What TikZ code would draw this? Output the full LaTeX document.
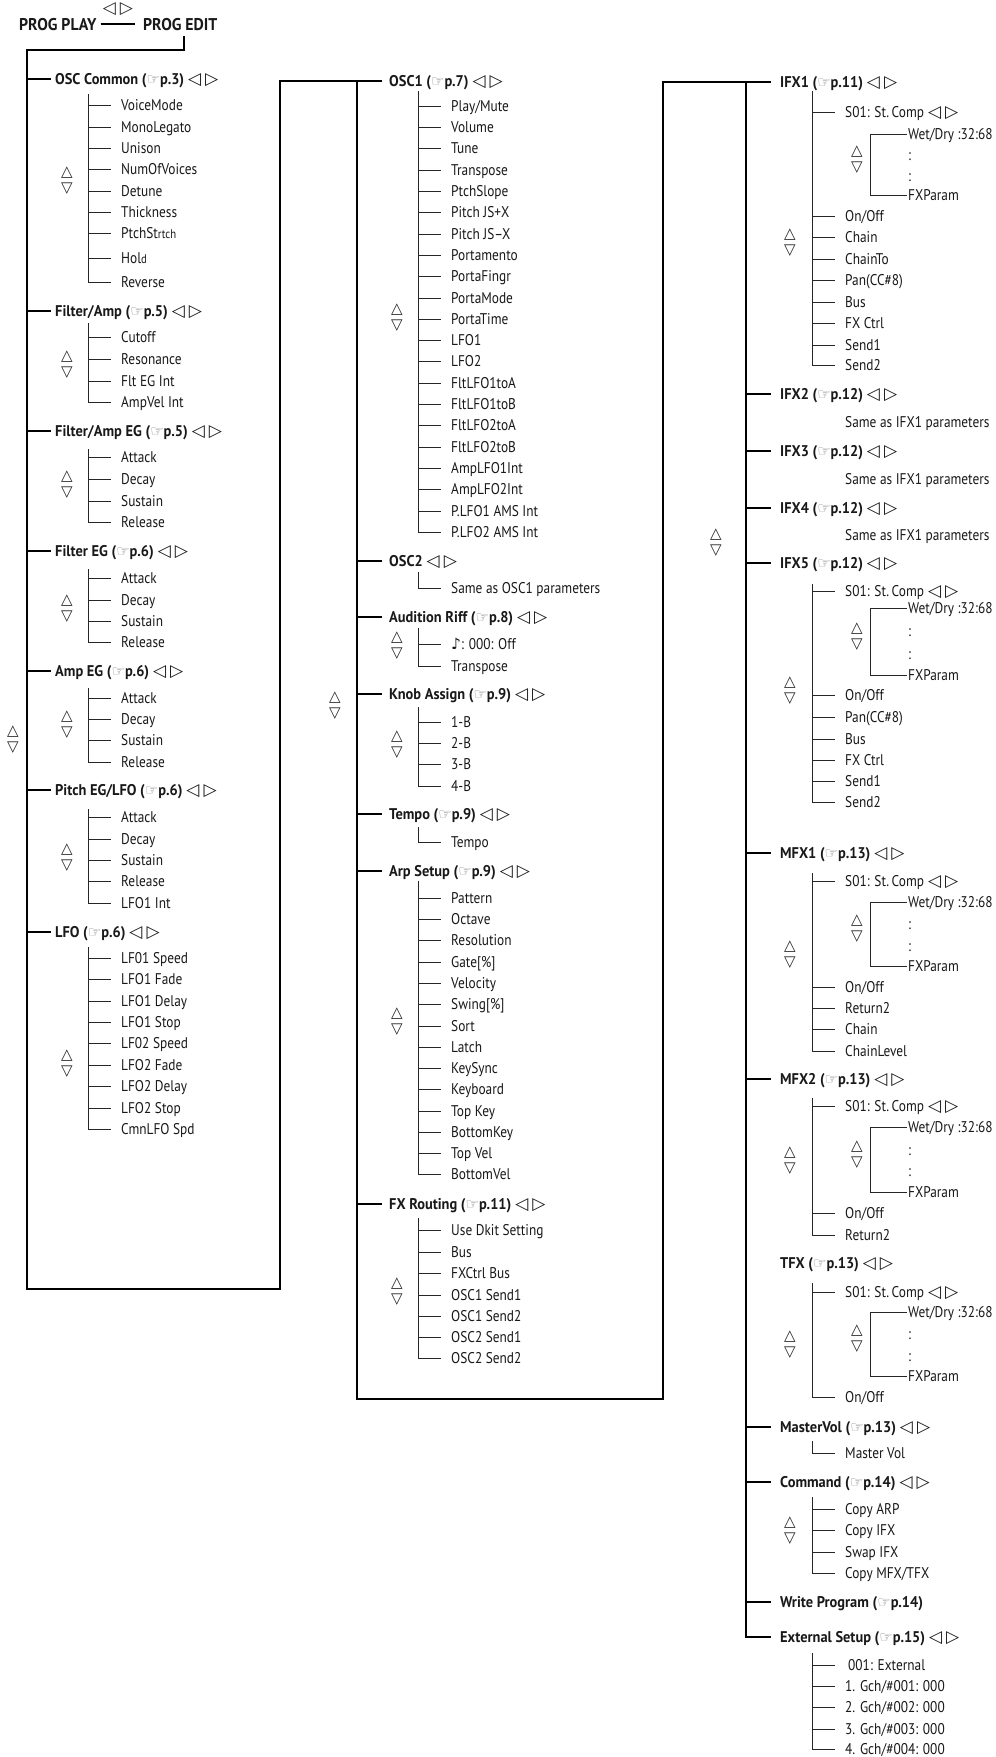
\documentclass[tikz,border=0pt]{standalone}
\usepackage{fontspec}
\setmainfont{PT Sans}[FakeStretch=0.86]
\newfontfamily\hfam{PT Sans}[FakeStretch=0.93]
\newfontfamily\symf{DejaVu Sans}
\newcommand\lf{\fontsize{15.5}{18}\selectfont}
\newcommand\hf{\hfam\fontsize{15.5}{18}\selectfont\bfseries}
\newcommand\pf{\hfam\fontsize{17}{19}\selectfont\bfseries}
\newcommand\sm{\fontsize{12.5}{14}\selectfont}
\newcommand\lr{\hspace{4pt}{\symf\mdseries\fontsize{17}{18}\selectfont ◁\hspace{4pt}▷}}
\newcommand\pg[1]{({\symf\mdseries\fontsize{15}{12}\selectfont\color{black!50}\raisebox{-0.5pt}{☞}}p.#1)}
\tikzset{
  mainln/.style={line width=1.8pt, line cap=rect, black},
  subln/.style={line width=1pt, line cap=rect, black!85},
  hd/.style={anchor=base west, inner sep=0pt, yshift=-5pt, font=\hf, text=black!90},
  leaf/.style={anchor=base west, inner sep=0pt, yshift=-5.5pt, font=\lf, text=black!90},
  ud/.style={inner sep=0pt, font=\symf\fontsize{15}{15}\selectfont, text=black!85},
}
\newcommand\leaves[4]{%
  \foreach \yy/\tx [count=\i] in {#4}{%
    \node[leaf] (#1-\i) at ({#2+33},\yy) {\tx};
    \draw[subln] (#2,\yy) -- ({#2+22},\yy);
    \xdef\lasty{\yy}%
  }%
  \draw[subln] (#2,#3) -- (#2,\lasty);
}
\newcommand\updn[3]{\node[ud] (#1-up) at (#2,{#3-8}) {△};\node[ud] (#1-dn) at (#2,{#3+8}) {▽};}
\newcommand\fxpar[3]{%
  \node[leaf] (#1-w) at (908,#2) {Wet/Dry :32:68};
  \node[leaf] (#1-c1) at (908,{#2+(#3-#2)/3+1}) {:};
  \node[leaf] (#1-c2) at (908,{#2+2*(#3-#2)/3+1}) {:};
  \node[leaf] (#1-p) at (908,#3) {FXParam};
  \draw[subln] (906,#2) -- (870,#2) -- (870,#3) -- (906,#3);
  \node[ud] (#1-u) at (857,{(#2+#3)/2-13}) {△};
  \node[ud] (#1-d) at (857,{(#2+#3)/2+3}) {▽};
}
\newcommand\hA[3]{\draw[mainln] (27,#2) -- (50,#2); \node[hd] (#1) at (55,#2) {#3};}
\newcommand\hB[3]{\draw[mainln] (357,#2) -- (381,#2); \node[hd] (#1) at (389,#2) {#3};}
\newcommand\hC[3]{\draw[mainln] (746,#2) -- (770,#2); \node[hd] (#1) at (780,#2) {#3};}
\newcommand\sone{S01: St.\,Comp\lr}
\begin{document}
\begin{tikzpicture}[x=1pt,y=-1pt]
\useasboundingbox[fill=white] (0,0) rectangle (996,1757);
% top
\node[ud,font=\symf\fontsize{17}{18}\selectfont] (toplr) at (118,9) {◁\hspace{4pt}▷};
\node[hd,font=\pf] (pplay) at (19,25) {PROG PLAY};
\node[hd,font=\pf] (pedit) at (143,25) {PROG EDIT};
\draw[line width=1.3pt] ([xshift=4pt]pplay.east) -- ([xshift=-8pt]pedit.west);
\coordinate (pe) at (184,37);
\coordinate (c1top) at (27,50);
\coordinate (c1bot) at (27,1289);
\coordinate (j12b) at (280,1289);
\coordinate (j12t) at (280,81);
\coordinate (osc1b) at (381,81);
\coordinate (c2top) at (357,81);
\coordinate (c2bot) at (357,1399);
\coordinate (j23b) at (663,1399);
\coordinate (j23t) at (663,82);
\coordinate (ifx1b) at (770,82);
\coordinate (c3top) at (746,82);
\coordinate (c3bot) at (746,1637);
\coordinate (extb) at (770,1637);
\draw[mainln] (pe) -- (pe |- c1top) -- (c1top) -- (c1bot) -- (j12b) -- (j12t) -- (osc1b);
\draw[mainln] (c2top) -- (c2bot) -- (j23b) -- (j23t) -- (ifx1b);
\draw[mainln] (c3top) -- (c3bot) -- (extb);
% main up/down
\updn{m1c}{13}{740}
\updn{m2c}{335}{706}
\updn{m3c}{716}{543}
% ---------- column 1
\hA{h-oscc}{79}{OSC Common \pg{3}\lr}
\leaves{oscc}{88}{94}{105/VoiceMode,127/MonoLegato,148/Unison,169/NumOfVoices,191/Detune,212/Thickness,233/{PtchSt{\sm rtch}},258/{Hol{\sm d}},282/Reverse}
\updn{oscc}{67}{181}
\hA{h-fa}{311}{Filter/Amp \pg{5}\lr}
\leaves{fa}{88}{323}{337/Cutoff,359/Resonance,381/Flt EG Int,402/AmpVel Int}
\updn{fa}{67}{365}
\hA{h-faeg}{431}{Filter/Amp EG \pg{5}\lr}
\leaves{faeg}{88}{449}{457/Attack,479/Decay,501/Sustain,522/Release}
\updn{faeg}{67}{485}
\hA{h-feg}{551}{Filter EG \pg{6}\lr}
\leaves{feg}{88}{569}{578/Attack,600/Decay,621/Sustain,642/Release}
\updn{feg}{67}{609}
\hA{h-aeg}{671}{Amp EG \pg{6}\lr}
\leaves{aeg}{88}{688}{698/Attack,719/Decay,740/Sustain,762/Release}
\updn{aeg}{67}{725}
\hA{h-peg}{790}{Pitch EG/LFO \pg{6}\lr}
\leaves{peg}{88}{809}{817/Attack,839/Decay,860/Sustain,881/Release,903/LFO1 Int}
\updn{peg}{67}{858}
\hA{h-lfo}{932}{LFO \pg{6}\lr}
\leaves{lfo}{88}{947}{958/LF01 Speed,979/LFO1 Fade,1001/LFO1 Delay,1022/LFO1 Stop,1043/LF02 Speed,1065/LFO2 Fade,1086/LFO2 Delay,1108/LFO2 Stop,1129/CmnLFO Spd}
\updn{lfo}{67}{1064}
% ---------- column 2
\node[hd] (h-osc1) at (389,81) {OSC1 \pg{7}\lr};
\leaves{o1}{418}{91}{106/{Play/Mute},127/Volume,148/Tune,170/Transpose,191/PtchSlope,212/{Pitch JS+X},234/{Pitch JS–X},255/Portamento,276/PortaFingr,298/PortaMode,319/PortaTime,340/LFO1,361/LFO2,383/FltLFO1toA,404/FltLFO1toB,425/FltLFO2toA,447/FltLFO2toB,468/AmpLFO1Int,489/AmpLFO2Int,511/{P.LFO1 AMS Int},532/{P.LFO2 AMS Int}}
\updn{o1}{397}{318}
\hB{h-osc2}{561}{OSC2\lr}
\leaves{o2}{418}{572}{588/Same as OSC1 parameters}
\hB{h-ar}{617}{Audition Riff \pg{8}\lr}
\leaves{ar}{418}{628}{644/{{\symf ♪}: 000: Off},666/Transpose}
\updn{ar}{397}{646}
\hB{h-ka}{694}{Knob Assign \pg{9}\lr}
\leaves{ka}{418}{707}{722/1-B,743/2-B,764/3-B,786/4-B}
\updn{ka}{397}{745}
\hB{h-tp}{814}{Tempo \pg{9}\lr}
\leaves{tp}{418}{827}{842/Tempo}
\hB{h-arp}{871}{Arp Setup \pg{9}\lr}
\leaves{arp}{418}{881}{898/Pattern,919/Octave,940/Resolution,962/{Gate[\%]},983/Velocity,1004/{Swing[\%]},1026/Sort,1047/Latch,1068/KeySync,1089/Keyboard,1111/Top Key,1132/BottomKey,1153/Top Vel,1174/BottomVel}
\updn{arp}{397}{1022}
\hB{h-fxr}{1204}{FX Routing \pg{11}\lr}
\leaves{fxr}{418}{1218}{1230/Use Dkit Setting,1252/Bus,1273/FXCtrl Bus,1295/OSC1 Send1,1316/OSC1 Send2,1337/OSC2 Send1,1358/OSC2 Send2}
\updn{fxr}{397}{1292}
% ---------- column 3
\node[hd] (h-i1) at (780,82) {IFX1 \pg{11}\lr};
\leaves{i1}{812}{91}{112/{\sone},216/{On/Off},237/Chain,259/ChainTo,280/{Pan(CC\#8)},302/Bus,323/FX Ctrl,345/Send1,365/Send2}
\updn{i1}{790}{243}
\fxpar{i1}{134}{195}
\hC{h-i2}{394}{IFX2 \pg{12}\lr}
\node[leaf] (i2s) at (845,422) {Same as IFX1 parameters};
\hC{h-i3}{451}{IFX3 \pg{12}\lr}
\node[leaf] (i3s) at (845,479) {Same as IFX1 parameters};
\hC{h-i4}{508}{IFX4 \pg{12}\lr}
\node[leaf] (i4s) at (845,535) {Same as IFX1 parameters};
\hC{h-i5}{563}{IFX5 \pg{12}\lr}
\leaves{i5}{812}{584}{591/{\sone},695/{On/Off},717/{Pan(CC\#8)},739/Bus,760/FX Ctrl,781/Send1,802/Send2}
\updn{i5}{790}{691}
\fxpar{i5}{608}{675}
\hC{h-m1}{853}{MFX1 \pg{13}\lr}
\leaves{m1}{812}{873}{881/{\sone},987/{On/Off},1008/Return2,1029/Chain,1051/ChainLevel}
\updn{m1}{790}{955}
\fxpar{m1}{902}{966}
\hC{h-m2}{1079}{MFX2 \pg{13}\lr}
\leaves{m2}{812}{1098}{1106/{\sone},1213/{On/Off},1235/Return2}
\updn{m2}{790}{1161}
\fxpar{m2}{1127}{1192}
\node[hd] (h-tfx) at (780,1263) {TFX \pg{13}\lr};
\leaves{tf}{812}{1283}{1292/{\sone},1397/{On/Off}}
\updn{tf}{790}{1345}
\fxpar{tf}{1312}{1376}
\hC{h-mv}{1427}{MasterVol \pg{13}\lr}
\leaves{mv}{812}{1441}{1453/Master Vol}
\hC{h-cm}{1482}{Command \pg{14}\lr}
\leaves{cm}{812}{1497}{1509/Copy ARP,1530/Copy IFX,1552/Swap IFX,1573/{Copy MFX/TFX}}
\updn{cm}{790}{1531}
\hC{h-wp}{1602}{Write Program \pg{14}}
\node[hd] (h-ex) at (780,1637) {External Setup \pg{15}\lr};
\leaves{ex}{812}{1653}{1665/{\hspace{3pt}001: External},1686/{1. Gch/\#001: 000},1707/{2. Gch/\#002: 000},1729/{3. Gch/\#003: 000},1749/{4. Gch/\#004: 000}}
\end{tikzpicture}
\end{document}
